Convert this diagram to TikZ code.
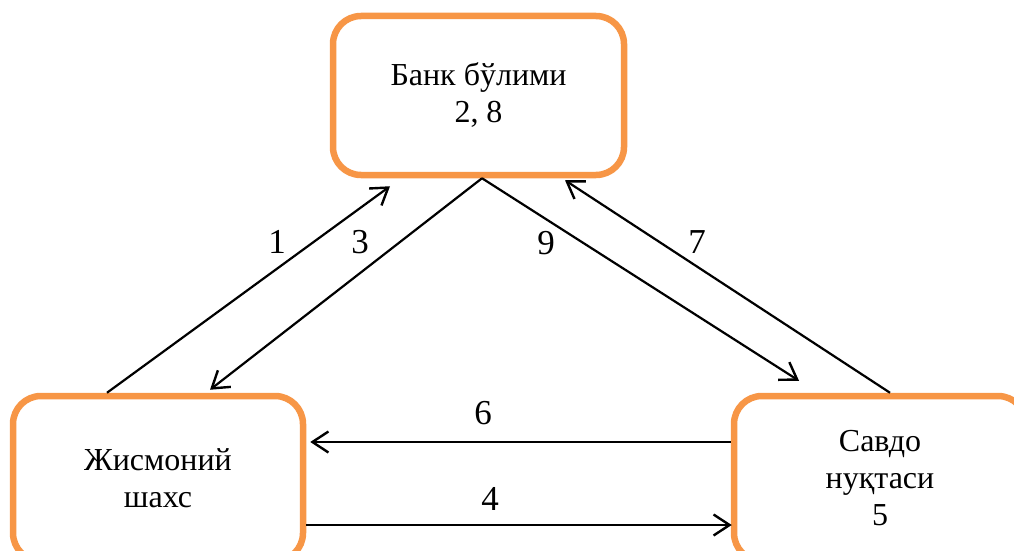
\documentclass[tikz,border=0pt]{standalone}
\usepackage{fontspec}
\setmainfont{Liberation Serif}
\usetikzlibrary{arrows.meta}
\definecolor{boxorange}{HTML}{F79646}
\tikzset{
  box/.style={draw=boxorange, line width=6.5pt, rounded corners=28pt, fill=white,
    align=center, inner sep=0pt, font=\fontsize{32}{37}\selectfont},
  arr/.style={line width=2.2pt, -{Straight Barb[length=16pt, width=21pt, line width=2.4pt]}},
  lbl/.style={font=\fontsize{35}{40}\selectfont, inner sep=0pt}
}
\begin{document}
\begin{tikzpicture}[x=1pt, y=-1pt]
\useasboundingbox (0,0) rectangle (1014,551);
\clip (0,0) rectangle (1014,551);
\node[box, minimum width=291pt, minimum height=159pt] (top) at (478.5,95.5) {Банк бўлими\\2, 8};
\node[box, minimum width=290pt, minimum height=165pt] (L) at (158,478.5) {Жисмоний\\шахс};
\node[box, minimum width=292pt, minimum height=165pt] (R) at (880,478.5) {Савдо\\нуқтаси\\5};
% arrows
\draw[arr] ([xshift=-51pt]L.north) -- ([xshift=-88.5pt, yshift=-8pt]top.south);
\draw[arr] ([xshift=3.5pt]top.south) -- ([xshift=52pt, yshift=3pt]L.north);
\draw[arr] ([xshift=3.5pt]top.south) -- ([xshift=-81pt, yshift=12pt]R.north);
\draw[arr] ([xshift=10pt]R.north) -- ([xshift=86.5pt, yshift=-2pt]top.south);
\draw[arr] ([yshift=36.5pt]R.west) -- ([xshift=4pt, yshift=36.5pt]L.east);
\draw[arr] ([yshift=-46.5pt]L.east) -- ([xshift=1pt, yshift=-46.5pt]R.west);
% labels
\node[lbl] (n1) at (277,242) {1};
\node[lbl] (n3) at (360,242) {3};
\node[lbl] (n9) at (546,243) {9};
\node[lbl] (n7) at (697,242) {7};
\node[lbl] (n6) at (483,413) {6};
\node[lbl] (n4) at (490,499) {4};
\end{tikzpicture}
\end{document}
